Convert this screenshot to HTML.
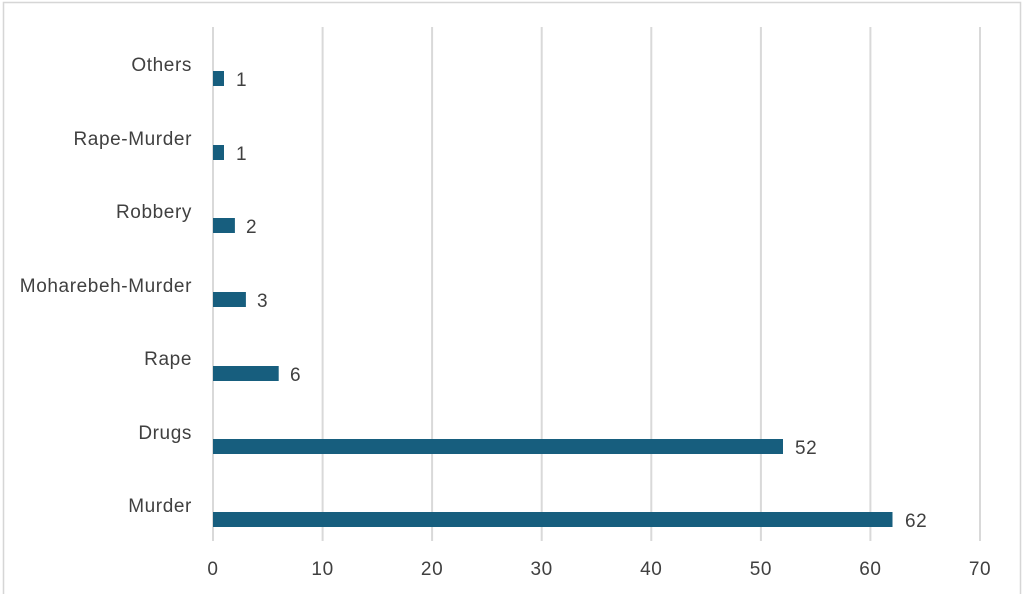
<!DOCTYPE html>
<html><head><style>body{margin:0;background:#fff}</style></head><body>
<svg width="1024" height="594" xmlns="http://www.w3.org/2000/svg" font-family="Liberation Sans, sans-serif">
<rect x="3.5" y="2.5" width="1017" height="600" fill="#fff" stroke="#d6d6d6" stroke-width="1.5"/>
<g stroke="#d9d9d9" stroke-width="2">
<line x1="213" y1="27" x2="213" y2="541"/><line x1="322.6" y1="27" x2="322.6" y2="541"/><line x1="432.1" y1="27" x2="432.1" y2="541"/><line x1="541.7" y1="27" x2="541.7" y2="541"/><line x1="651.3" y1="27" x2="651.3" y2="541"/><line x1="760.9" y1="27" x2="760.9" y2="541"/><line x1="870.4" y1="27" x2="870.4" y2="541"/><line x1="980" y1="27" x2="980" y2="541"/>
</g>
<g fill="#175e7e">
<rect x="213" y="71" width="11" height="15"/>
<rect x="213" y="145" width="11" height="15"/>
<rect x="213" y="218" width="21.9" height="15"/>
<rect x="213" y="292" width="32.9" height="15"/>
<rect x="213" y="366" width="65.7" height="15"/>
<rect x="213" y="439" width="570" height="15"/>
<rect x="213" y="512" width="679.5" height="15"/>
</g>
<g font-size="19" fill="#404040" text-anchor="end" letter-spacing="0.6">
<text x="192" y="71">Others</text>
<text x="192" y="145">Rape-Murder</text>
<text x="192" y="218">Robbery</text>
<text x="192" y="292">Moharebeh-Murder</text>
<text x="192" y="365">Rape</text>
<text x="192" y="439">Drugs</text>
<text x="192" y="512">Murder</text>
</g>
<g font-size="19" fill="#404040" letter-spacing="0.6">
<text x="236" y="86">1</text>
<text x="236" y="160">1</text>
<text x="246" y="233">2</text>
<text x="257" y="307">3</text>
<text x="290" y="381">6</text>
<text x="795" y="454">52</text>
<text x="905" y="527">62</text>
</g>
<g font-size="19" fill="#404040" text-anchor="middle" letter-spacing="0.6">
<text x="213" y="575">0</text><text x="322.6" y="575">10</text><text x="432.1" y="575">20</text><text x="541.7" y="575">30</text><text x="651.3" y="575">40</text><text x="760.9" y="575">50</text><text x="870.4" y="575">60</text><text x="980" y="575">70</text>
</g>
</svg>
</body></html>
